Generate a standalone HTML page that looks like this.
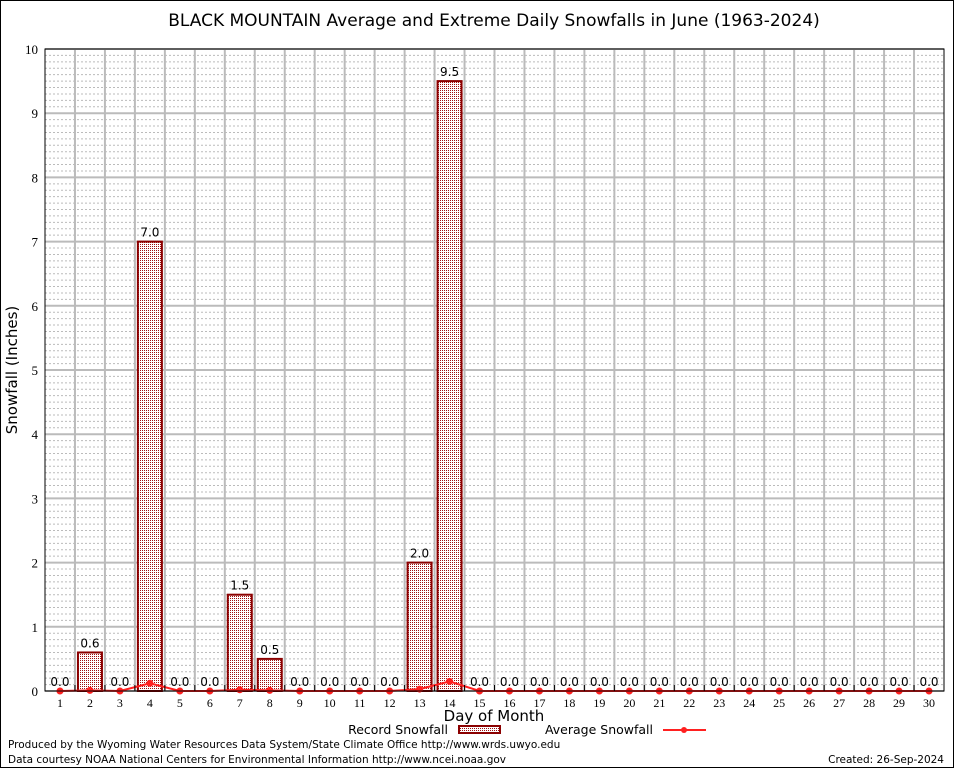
<!DOCTYPE html>
<html><head><meta charset="utf-8"><style>
body{margin:0;background:#fff}
svg{display:block}
</style></head><body>
<svg id="chart" width="954" height="768" xmlns="http://www.w3.org/2000/svg">
<defs>
<pattern id="chk" width="2" height="2" patternUnits="userSpaceOnUse">
<rect width="2" height="2" fill="#fff"/>
<rect width="1" height="1" fill="#a01010"/>
</pattern>
</defs>
<rect x="0.5" y="0.5" width="953" height="767" fill="#fff" stroke="#000"/>
<text x="494" y="26" text-anchor="middle" font-family="DejaVu Sans, sans-serif" font-size="17">BLACK MOUNTAIN Average and Extreme Daily Snowfalls in June (1963-2024)</text>
<g id="grid"></g>
<g id="bars"></g>
<g id="avg"></g>
<rect x="45" y="49" width="899" height="642" fill="none" stroke="#000"/>
<text transform="translate(17,370) rotate(-90)" text-anchor="middle" font-family="DejaVu Sans, sans-serif" font-size="15">Snowfall (Inches)</text>
<text x="494" y="721" text-anchor="middle" font-family="DejaVu Sans, sans-serif" font-size="15">Day of Month</text>
<text x="448" y="734" text-anchor="end" font-family="DejaVu Sans, sans-serif" font-size="12.5">Record Snowfall</text>
<rect x="459" y="726" width="41" height="7" fill="url(#chk)" stroke="#8b0000" stroke-width="2"/>
<text x="653" y="734" text-anchor="end" font-family="DejaVu Sans, sans-serif" font-size="12.5">Average Snowfall</text>
<line x1="663" y1="730" x2="706" y2="730" stroke="#ff2020" stroke-width="2"/>
<circle cx="684" cy="730" r="3" fill="#ff2020"/>
<text x="8" y="748" font-family="DejaVu Sans, sans-serif" font-size="10.5">Produced by the Wyoming Water Resources Data System/State Climate Office http://www.wrds.uwyo.edu</text>
<text x="8" y="763" font-family="DejaVu Sans, sans-serif" font-size="10.5">Data courtesy NOAA National Centers for Environmental Information http://www.ncei.noaa.gov</text>
<text x="944" y="763" text-anchor="end" font-family="DejaVu Sans, sans-serif" font-size="10.5">Created:  26-Sep-2024</text>
</svg>
<script>
const days=[1,2,3,4,5,6,7,8,9,10,11,12,13,14,15,16,17,18,19,20,21,22,23,24,25,26,27,28,29,30];
const records=[0,0.6,0,7.0,0,0,1.5,0.5,0,0,0,0,2.0,9.5,0,0,0,0,0,0,0,0,0,0,0,0,0,0,0,0];
const averages=[0,0.01,0,0.12,0,0,0.02,0.01,0,0,0,0,0.03,0.15,0,0,0,0,0,0,0,0,0,0,0,0,0,0,0,0];
const yTicks=[0,1,2,3,4,5,6,7,8,9,10];
const NS='http://www.w3.org/2000/svg';
const L=45,R=944,T=49,B=691,YMAX=10;
const dw=(R-L)/days.length;
function xs(d){return L+(d-0.5)*dw;}
function ys(v){return B-v/YMAX*(B-T);}
function mk(tag,attrs,parent){const e=document.createElementNS(NS,tag);for(const k in attrs)e.setAttribute(k,attrs[k]);parent.appendChild(e);return e;}
const grid=document.getElementById('grid'),bars=document.getElementById('bars'),avg=document.getElementById('avg'),svg=document.getElementById('chart');
for(let i=1;i<YMAX*10;i++){if(i%10===0)continue;const y=ys(i/10);
const l=mk('line',{x1:L,x2:R,y1:y,y2:y,stroke:'#bbb','stroke-dasharray':'2,2','stroke-width':1},grid);

}
yTicks.forEach(v=>{const y=ys(v);
const l=mk('line',{x1:L,x2:R,y1:y,y2:y,stroke:'#bbb','stroke-width':2},grid);


const t=mk('text',{x:38,y:y+5,'text-anchor':'end','font-family':'Liberation Serif, serif','font-size':13},svg);
t.textContent=v;

});
for(let i=1;i<days.length;i++){const x=L+i*dw;
const l=mk('line',{x1:x,x2:x,y1:T,y2:B,stroke:'#bbb','stroke-width':2},grid);


const tk=mk('line',{x1:x,x2:x,y1:B-6,y2:B,stroke:'#000'},svg);

}
days.forEach((d,i)=>{const x=xs(d),v=records[i];
if(v>0){const r=mk('rect',{x:x-12,y:ys(v),width:24,height:B-ys(v),fill:'url(#chk)',stroke:'#8b0000','stroke-width':2},bars);

}
const t=mk('text',{x:x,y:ys(v)-5,'text-anchor':'middle','font-family':'DejaVu Sans, sans-serif','font-size':12},bars);
t.textContent=v.toFixed(1);


const xl=mk('text',{x:x,y:B+16,'text-anchor':'middle','font-family':'Liberation Serif, serif','font-size':12},svg);
xl.textContent=d;

});
const pts=days.map((d,i)=>xs(d)+','+ys(averages[i])).join(' ');
const pl=mk('polyline',{points:pts,fill:'none',stroke:'#ff2020','stroke-width':2},avg);


days.forEach((d,i)=>{const c=mk('circle',{cx:xs(d),cy:ys(averages[i]),r:3.5,fill:'#ff2020'},avg);

});
</script>
</body></html>
